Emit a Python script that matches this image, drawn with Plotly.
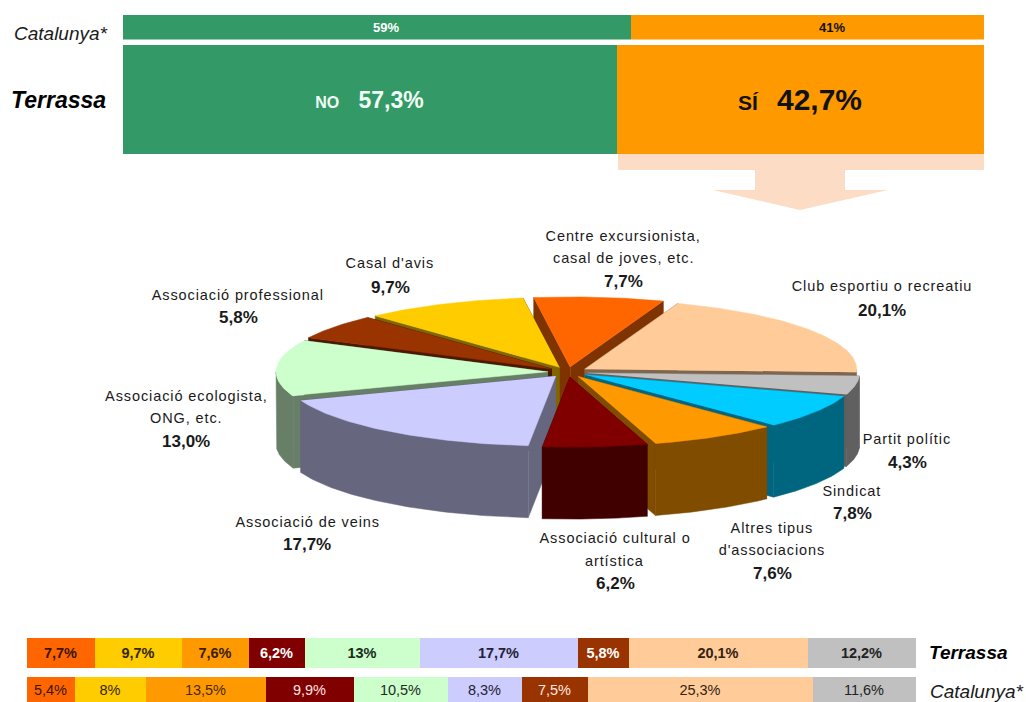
import numpy as np
import plotly.graph_objects as go

# ---------- data ----------
answer_names = ["NO", "SÍ"]
catalunya_answer = [59, 41]
terrassa_answer = [57.3, 42.7]
answer_colors = ["#339966", "#FF9900"]

pie_labels = [
    ["Centre excursionista,", "casal de joves, etc."],
    ["Club esportiu o recreatiu"],
    ["Partit polític"],
    ["Sindicat"],
    ["Altres tipus", "d'associacions"],
    ["Associació cultural o", "artística"],
    ["Associació de veins"],
    ["Associació ecologista,", "ONG, etc."],
    ["Associació professional"],
    ["Casal d'avis"],
]
pie_values = [7.7, 20.1, 4.3, 7.8, 7.6, 6.2, 17.7, 13.0, 5.8, 9.7]
pie_colors = ["#FF6600", "#FFCC99", "#C0C0C0", "#00CCFF", "#FF9900",
              "#800000", "#CCCCFF", "#CCFFCC", "#993300", "#FFCC00"]

strip_terrassa = [7.7, 9.7, 7.6, 6.2, 13, 17.7, 5.8, 20.1, 12.2]
strip_catalunya = [5.4, 8, 13.5, 9.9, 10.5, 8.3, 7.5, 25.3, 11.6]
strip_colors = ["#FF6600", "#FFCC00", "#FF9900", "#800000", "#CCFFCC",
                "#CCCCFF", "#993300", "#FFCC99", "#C0C0C0"]
strip_text_terrassa = ["#3a1500", "#332900", "#3a2000", "#FFFFFF", "#1c2c1c",
                       "#222233", "#FFFFFF", "#332211", "#222222"]
strip_text_catalunya = ["#3a1500", "#332900", "#4a2a00", "#FFE0E0", "#1c2c1c",
                        "#222233", "#FFE8E0", "#332211", "#222222"]

# ---------- layout constants (pixels of the 1026x702 page) ----------
W, H = 1026, 702
FONT = "Liberation Sans"
CX, CY, RX, RY, DEPTH, EXPLODE = 568, 372, 272, 70, 72, 20
START_DEG = -7.7
label_anchor = [(623, [236, 258, 281]), (882, [286, 310]), (907, [439, 462]),
                (852, [491, 513]), (772, [528, 550, 573]), (615, [538, 561, 583]),
                (307, [522, 544]), (186, [396, 418, 441]), (238, [295, 317]),
                (390, [263, 287])]
catalunya_text_x = [386, 832]


def comma(v, fmt="g"):
    return format(v, fmt).replace(".", ",") + "%"


def darker(hex_color, f=0.5):
    r, g, b = (int(hex_color[i:i + 2], 16) for i in (1, 3, 5))
    return f"rgb({int(r * f)},{int(g * f)},{int(b * f)})"


def py(v):
    return 1 - v / H


fig = go.Figure()

# ---------- exploded 3-D pie, computed from pie_values ----------
degs = np.array(pie_values) / sum(pie_values) * 360
starts = START_DEG + np.concatenate([[0], np.cumsum(degs)[:-1]])
ends = starts + degs
mids = (starts + ends) / 2
k = RY / RX


def ring(deg, dx, dy):
    t = np.radians(deg)
    return CX + dx + RX * np.sin(t), CY + dy - RY * np.cos(t)


def polygon(xs, ys, color):
    fig.add_trace(go.Scatter(x=list(xs), y=list(ys), mode="lines", fill="toself",
                             fillcolor=color, line=dict(color=color, width=0.5),
                             hoverinfo="skip", showlegend=False, xaxis="x", yaxis="y"))


for i in np.argsort(-np.cos(np.radians(mids))):
    a, b, m = starts[i], ends[i], np.radians(mids[i])
    dx, dy = EXPLODE * np.sin(m), -EXPLODE * k * np.cos(m)
    ax, ay = CX + dx, CY + dy
    side = darker(pie_colors[i])
    for edge in (a, b):
        ex, ey = ring(edge, dx, dy)
        polygon([ax, ex, ex, ax], [ay, ey, ey + DEPTH, ay + DEPTH], side)
    lo, hi = max(a, 90), min(b, 270)
    if lo < hi:
        arc = np.linspace(lo, hi, 60)
        ox, oy = ring(arc, dx, dy)
        polygon(np.r_[ox, ox[::-1]], np.r_[oy, oy[::-1] + DEPTH], side)
    arc = np.linspace(a, b, 90)
    ox, oy = ring(arc, dx, dy)
    polygon(np.r_[ax, ox], np.r_[ay, oy], pie_colors[i])


# ---------- stacked bars ----------
def stacked(values, colors, texts, text_colors, axis_y, axis_x, size, name):
    for v, c, t, tc in zip(values, colors, texts, text_colors):
        fig.add_trace(go.Bar(
            x=[v], y=[name], orientation="h", xaxis=axis_x, yaxis=axis_y,
            marker=dict(color=c, line=dict(width=0)), text=[t], textposition="inside",
            insidetextanchor="middle", textangle=0, constraintext="none",
            textfont=dict(family=FONT, size=size, color=tc),
            cliponaxis=False, hoverinfo="skip", showlegend=False))


stacked(catalunya_answer, answer_colors, ["", ""], ["#FFFFFF", "#111111"],
        "y2", "x2", 12, "Catalunya*")
stacked(terrassa_answer, answer_colors,
        [f"<b><span style='font-size:16px'>{n}</span>   {comma(v)}</b>"
         if n == "NO" else
         f"<b><span style='font-size:21px'>{n}</span>   <span style='font-size:30px'>{comma(v)}</span></b>"
         for n, v in zip(answer_names, terrassa_answer)],
        ["#F2FFF6", "#111111"], "y3", "x2", 23, "Terrassa")
stacked(strip_terrassa, strip_colors,
        [f"<b>{comma(v)}</b>" for v in strip_terrassa],
        strip_text_terrassa, "y4", "x3", 14.5, "Terrassa")
stacked(strip_catalunya, strip_colors,
        [comma(v) for v in strip_catalunya],
        strip_text_catalunya, "y5", "x3", 14.5, "Catalunya*")

# ---------- text ----------
ann = []


def put(x, y, text, size, color="#1a1a1a", bold=False, italic=False):
    s = f"<b>{text}</b>" if bold else text
    s = f"<i>{s}</i>" if italic else s
    ann.append(dict(x=x, y=y, xref="x", yref="y", text=s, showarrow=False,
                    xanchor="center", yanchor="middle",
                    font=dict(family=FONT, size=size, color=color)))


for lines, v, (x, ys) in zip(pie_labels, pie_values, label_anchor):
    for line, y in zip(lines, ys):
        put(x, y, line, 14.5)
    put(x, ys[-1], comma(v, ".1f"), 17, bold=True)

for v, x, c in zip(catalunya_answer, catalunya_text_x, ["#FFFFFF", "#111111"]):
    put(x, 27.5, comma(v), 13, color=c, bold=True)

put(61, 33, "Catalunya*", 19, italic=True)
put(58, 100, "Terrassa", 23, color="#000000", bold=True, italic=True)
put(968, 652, "Terrassa", 19, color="#000000", bold=True, italic=True)
put(977, 691, "Catalunya*", 19, italic=True)

hidden = dict(visible=False, fixedrange=True)
fig.update_layout(
    width=W, height=H, margin=dict(l=0, r=0, t=0, b=0),
    paper_bgcolor="white", plot_bgcolor="white",
    barmode="stack", bargap=0, showlegend=False, annotations=ann,
    xaxis=dict(hidden, domain=[0, 1], range=[0, W]),
    yaxis=dict(hidden, domain=[0, 1], range=[H, 0]),
    xaxis2=dict(hidden, domain=[122.5 / W, 984 / W], range=[0, 100.001], anchor="y2"),
    xaxis3=dict(hidden, domain=[26.5 / W, 916 / W], range=[0, 100.001], anchor="y4"),
    yaxis2=dict(hidden, domain=[py(39.5), py(15)], anchor="x2"),
    yaxis3=dict(hidden, domain=[py(154), py(45)], anchor="x2"),
    yaxis4=dict(hidden, domain=[py(668), py(638)], anchor="x3"),
    yaxis5=dict(hidden, domain=[py(702), py(676.5)], anchor="x3"),
    shapes=[dict(type="path", xref="x", yref="y", layer="below", line_width=0,
                 fillcolor="#FDDCC6",
                 path="M618,154 L984,154 L984,170 L845,170 L845,190 L888,190 "
                      "L800,210 L713,190 L755,190 L755,170 L618,170 Z")],
)

fig.write_html(
    "out.html", config=dict(displayModeBar=False),
    post_script=(
        "document.body.style.margin='0';document.body.style.overflow='hidden';"
        "document.querySelectorAll('.annotation-text').forEach(function(t){"
        "if(t.style.fontSize==='14.5px'){t.style.letterSpacing='0.9px';}});"
    ),
)
